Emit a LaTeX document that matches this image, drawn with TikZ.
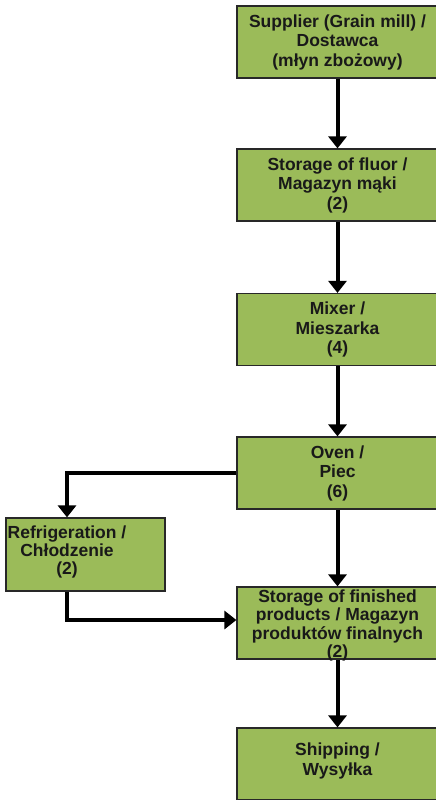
\documentclass[tikz,border=0pt]{standalone}
\usepackage{fontspec}
\setmainfont{Liberation Sans}
\usetikzlibrary{arrows.meta,calc}
\definecolor{boxgreen}{RGB}{155,187,89}
\definecolor{boxline}{RGB}{40,40,40}
\tikzset{
	stage/.style={draw=boxline,line width=1.2pt,fill=boxgreen,inner sep=0pt,
		minimum width=201pt,minimum height=72pt,align=center,
		font=\bfseries\fontsize{17.5}{19.5}\selectfont,text=black!90},
	stagetext/.style={align=center,inner sep=0pt,text=black!90},
	flow/.style={-{Triangle[width=18pt,length=12pt]},line width=4pt,black}
}

\begin{document}
\begin{tikzpicture}[x=1pt,y=-1pt]
	
	\clip (0,0) rectangle (436,800);
	\fill[white] (0,0) rectangle (436,800);
	
	% main line
	\node[stage] (supplier) at (337.5,42) {Supplier (Grain mill) /\\Dostawca\\(młyn zbożowy)};
	\node[stage] (flour) at (337.5,185) {Storage of fluor /\\Magazyn mąki\\(2)};
	\node[stage] (mixer) at (337.5,329.5) {Mixer /\\Mieszarka\\(4)};
	\node[stage] (oven) at (337.5,473) {Oven /\\Piec\\(6)};
	\node[stage] (finished) at (337.5,623) {};
	\node[stagetext,font=\bfseries\fontsize{17.5}{18.3}\selectfont] (finishedlabel)
		at ([yshift=-2.5pt]finished.center) {Storage of finished\\products / Magazyn\\produktów finalnych\\(2)};
	\node[stage] (shipping) at (337.5,764) {Shipping /\\Wysyłka\\[-9.5pt]};
	
	% side branch
	\node[stage,minimum width=159pt,minimum height=73pt] (cool) at (85.5,554.5) {};
	\node[stagetext,font=\bfseries\fontsize{17.5}{18}\selectfont] (coollabel)
		at ([xshift=-18.5pt,yshift=3pt]cool.center) {Refrigeration /\\Chłodzenie\\(2)};
	
	\draw[flow] (supplier) -- (flour);
	\draw[flow] (flour) -- (mixer);
	\draw[flow] (mixer) -- (oven);
	\draw[flow] (oven) -- (finished);
	\draw[flow] (finished) -- (shipping);
	
	\draw[flow] (oven.west) -| ([xshift=-18.5pt]cool.north);
	\draw[flow] ([xshift=-18.5pt]cool.south) |- ([yshift=3pt]finished.west);
	
\end{tikzpicture}
\end{document}
